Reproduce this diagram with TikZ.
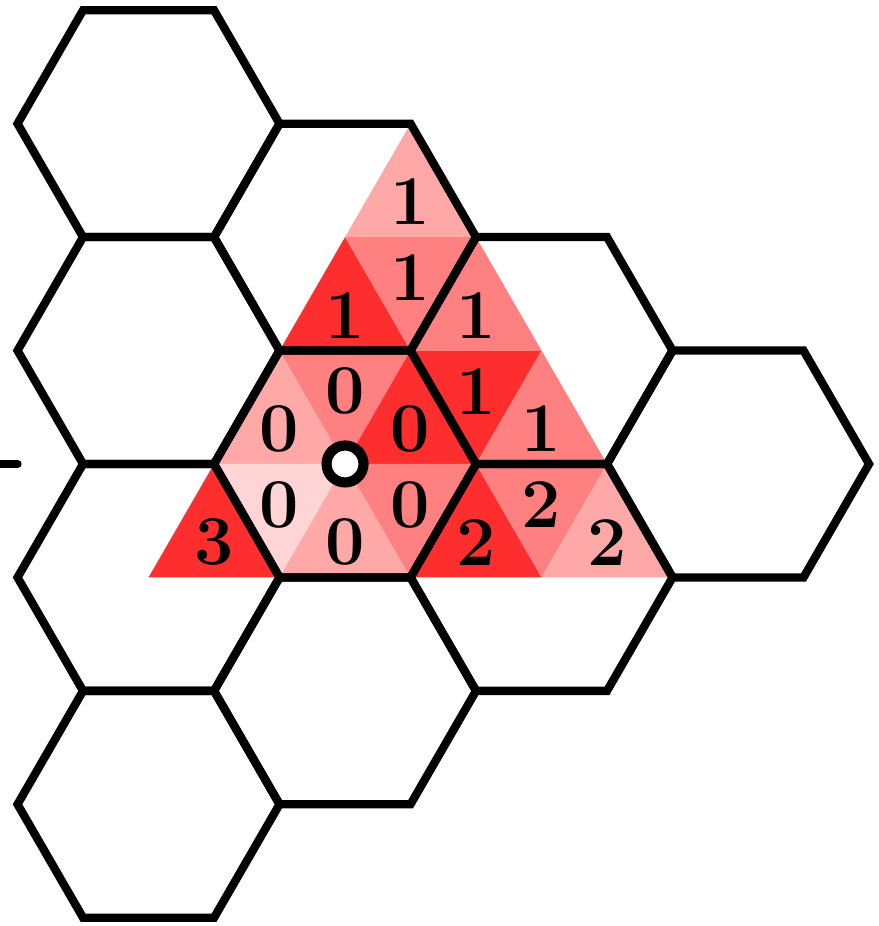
\documentclass[tikz,border=0pt]{standalone}
\definecolor{hotred}{RGB}{255,46,46}
\definecolor{midred}{RGB}{255,128,128}
\definecolor{palered}{RGB}{255,168,168}
\definecolor{faintred}{RGB}{255,212,212}
\usepackage{tikz}
\usetikzlibrary{positioning}

\begin{document}
\begin{tikzpicture}[x=1cm, y=0.866cm,
    cell/.style={draw=black, line width=1.8pt},
    num/.style={font=\fontsize{15.2}{18}\selectfont\bfseries, inner sep=0pt},
    site/.style={circle, draw=black, fill=white, line width=2.2pt,
                 minimum size=0.282cm, inner sep=0pt}]

\useasboundingbox (-2.634cm,-3.527cm) rectangle (4.076cm,3.542cm);

% Triangle fills, row by row from the top
\fill[palered] (0.5,3) -- (0,2) -- (1,2) -- cycle;

\fill[hotred] (0,2) -- (-0.5,1) -- (0.5,1) -- cycle;
\fill[midred] (0,2) -- (1,2) -- (0.5,1) -- cycle;
\fill[midred] (1,2) -- (0.5,1) -- (1.5,1) -- cycle;

\fill[palered] (-0.5,1) -- (-1,0) -- (0,0) -- cycle;
\fill[midred] (-0.5,1) -- (0.5,1) -- (0,0) -- cycle;
\fill[hotred] (0.5,1) -- (0,0) -- (1,0) -- cycle;
\fill[hotred] (0.5,1) -- (1.5,1) -- (1,0) -- cycle;
\fill[midred] (1.5,1) -- (1,0) -- (2,0) -- cycle;

\fill[hotred] (-1,0) -- (-1.5,-1) -- (-0.5,-1) -- cycle;
\fill[faintred] (-1,0) -- (0,0) -- (-0.5,-1) -- cycle;
\fill[palered] (0,0) -- (-0.5,-1) -- (0.5,-1) -- cycle;
\fill[midred] (0,0) -- (1,0) -- (0.5,-1) -- cycle;
\fill[hotred] (1,0) -- (0.5,-1) -- (1.5,-1) -- cycle;
\fill[midred] (1,0) -- (2,0) -- (1.5,-1) -- cycle;
\fill[palered] (2,0) -- (1.5,-1) -- (2.5,-1) -- cycle;

% Hexagons
\foreach \i in {0,...,3} {
  \pgfmathtruncatemacro\last{3-\i}
  \foreach \j in {0,...,\last} {
    \draw[cell] ({1.5*(\i-1)},{3-\i-2*\j}) +(-1,0) -- +(-0.5,1) -- +(0.5,1)
        -- +(1,0) -- +(0.5,-1) -- +(-0.5,-1) -- cycle;
  }
}

% Left stub
\coordinate (stub) at (-2.5,0);
\draw[cell, line cap=round] (-2.8,0) -- (stub);

% Labels
\node[num] (ra) at (0.5,2.31) {1};

\node[num] (rba) at (0,1.31) {1};
\node[num] (rbb) at (0.5,1.64) {1};
\node[num] (rbc) at (1,1.31) {1};

\node[num] (rca) at (-0.5,0.31) {0};
\node[num] (rcb) at (0,0.64) {0};
\node[num] (rcc) at (0.5,0.31) {0};
\node[num] (rcd) at (1,0.64) {1};
\node[num] (rce) at (1.5,0.31) {1};

\node[num] (rda) at (-1,-0.69) {3};
\node[num] (rdb) at (-0.5,-0.36) {0};
\node[num] (rdc) at (0,-0.69) {0};
\node[num] (rdd) at (0.5,-0.36) {0};
\node[num] (rde) at (1,-0.69) {2};
\node[num] (rdf) at (1.5,-0.36) {2};
\node[num] (rdg) at (2,-0.69) {2};

% Centre point
\node[site] (origin) at (0,0) {};
\end{tikzpicture}
\end{document}
